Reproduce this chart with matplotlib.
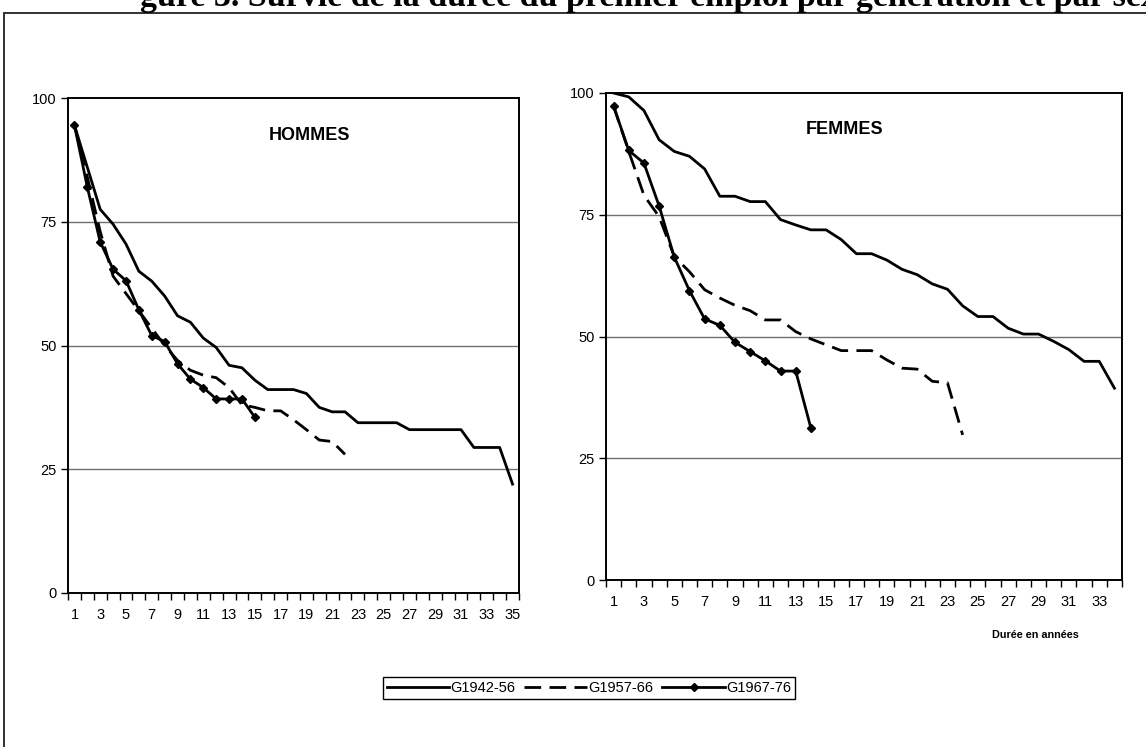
import matplotlib
matplotlib.use("Agg")
import matplotlib.pyplot as plt
from matplotlib.patches import Rectangle
from matplotlib.lines import Line2D
import numpy as np

# ---------------- data ----------------
series_names = ["G1942-56", "G1957-66", "G1967-76"]

hommes_g1942 = [94.5, 86, 77.5, 74.5, 70.5, 65, 63, 60, 56, 54.7, 51.5, 49.6, 46, 45.5,
                43, 41.1, 41.1, 41.1, 40.3, 37.5, 36.6, 36.6, 34.4, 34.4, 34.4, 34.4,
                33, 33, 33, 33, 33, 29.4, 29.4, 29.4, 22]
hommes_g1957 = [94.5, 84, 73, 64, 60.5, 57, 53.5, 50, 47, 45, 44, 43.5, 41.5, 38,
                37.5, 36.8, 36.8, 35, 33, 30.9, 30.6, 28]
hommes_g1967 = [94.5, 82, 70.9, 65.4, 63.1, 57.2, 52, 50.8, 46.3, 43.2, 41.5, 39.2,
                39.2, 39.2, 35.5]

femmes_g1942 = [100, 99.2, 96.4, 90.4, 88, 87, 84.4, 78.8, 78.8, 77.7, 77.7, 74,
                72.9, 71.9, 71.9, 69.9, 67, 67, 65.7, 63.8, 62.7, 60.8, 59.7, 56.3,
                54.1, 54.1, 51.7, 50.5, 50.5, 49, 47.3, 44.9, 44.9, 39.4]
femmes_g1957 = [97.3, 88, 79, 74.6, 66.4, 63.3, 59.6, 57.9, 56.4, 55.3, 53.4, 53.4,
                51, 49.5, 48.3, 47.1, 47.1, 47.1, 45.2, 43.5, 43.3, 40.8, 40.5, 29.8]
femmes_g1967 = [97.3, 88.2, 85.6, 76.8, 66.3, 59.4, 53.6, 52.3, 48.8, 46.9, 45.0,
                42.9, 42.9, 31.2]

n_cat_hommes = 35
n_cat_femmes = 34
y_ticks = [0, 25, 50, 75, 100]
panel_titles = ["HOMMES", "FEMMES"]
xlabel_text = "Durée en années"
title_text = "gure 3. Survie de la durée du premier emploi par génération et par sexe"

# ---------------- figure ----------------
W, H = 1146, 747
fig = plt.figure(figsize=(W / 100, H / 100), dpi=100)
plt.rcParams['font.family'] = ['Liberation Sans', 'DejaVu Sans']

def fx(px):
    return px / W

def fy(py):
    return 1 - py / H

# outer frame (extends beyond right/bottom edge)
fig.patches.append(Rectangle((fx(4), fy(H + 20)), fx(W + 50), (H + 20 - 13) / H,
                             transform=fig.transFigure, fill=False,
                             edgecolor="#222222", linewidth=1.3))

# clipped title
fig.text(fx(140), fy(6), title_text, fontfamily="Liberation Serif",
         fontweight="bold", fontsize=24.5, va="baseline", ha="left")

styles = [dict(color="black", lw=2.0, ls="-"),
          dict(color="black", lw=2.0, ls=(0, (6, 3))),
          dict(color="black", lw=2.0, ls="-", marker="D", markersize=4)]

TICK_FS = 10.5


def setup(ax, ncat, title, tx, ty):
    ax.set_xlim(0.5, ncat + 0.5)
    ax.set_ylim(0, 100)
    ax.set_yticks(y_ticks)
    ax.set_yticklabels([str(v) for v in y_ticks], fontsize=TICK_FS)
    ax.set_xticks(np.arange(1, ncat + 1, 2))
    ax.set_xticklabels([str(v) for v in range(1, ncat + 1, 2)], fontsize=TICK_FS)
    ax.set_xticks(np.arange(0.5, ncat + 1, 1), minor=True)
    ax.tick_params(axis="x", which="major", length=0, pad=11)
    ax.tick_params(axis="x", which="minor", length=5, width=1, direction="out")
    ax.tick_params(axis="y", length=5, width=1, direction="out", pad=3)
    for v in [25, 50, 75]:
        ax.axhline(v, color="#707070", lw=1.0, zorder=0)
    for s in ax.spines.values():
        s.set_color("black")
        s.set_linewidth(1.4)
    ax.text(tx, ty, title, transform=ax.transAxes, fontsize=13,
            fontweight="bold", ha="center", va="center")


# left panel (HOMMES)
L0, L1, LT, LB = 68, 519, 98, 593
axL = fig.add_axes([fx(L0), fy(LB), fx(L1 - L0), (LB - LT) / H])
for data, st in zip([hommes_g1942, hommes_g1957, hommes_g1967], styles):
    axL.plot(np.arange(1, len(data) + 1), data, **st)
setup(axL, n_cat_hommes, panel_titles[0], (310 - L0) / (L1 - L0),
      (LB - 136) / (LB - LT))

# right panel (FEMMES)
R0, R1, RT, RB = 606, 1122, 93, 580
axR = fig.add_axes([fx(R0), fy(RB), fx(R1 - R0), (RB - RT) / H])
for data, st in zip([femmes_g1942, femmes_g1957, femmes_g1967], styles):
    axR.plot(np.arange(1, len(data) + 1), data, **st)
setup(axR, n_cat_femmes, panel_titles[1], (845 - R0) / (R1 - R0),
      (RB - 129) / (RB - RT))

fig.text(fx(1035), fy(635), xlabel_text, fontsize=7.8, fontweight="bold",
         ha="center", va="center")

# legend
handles = [Line2D([], [], **st) for st in styles]
leg = fig.legend(handles, series_names, loc="center", ncol=3,
                 bbox_to_anchor=(fx(589), fy(688)), fontsize=10.5,
                 frameon=True, fancybox=False, framealpha=1,
                 edgecolor="black", handlelength=4.3, handletextpad=0.1,
                 columnspacing=0.6, borderpad=0.25)
leg.get_frame().set_linewidth(1.0)

fig.savefig("out.png", dpi=100)
